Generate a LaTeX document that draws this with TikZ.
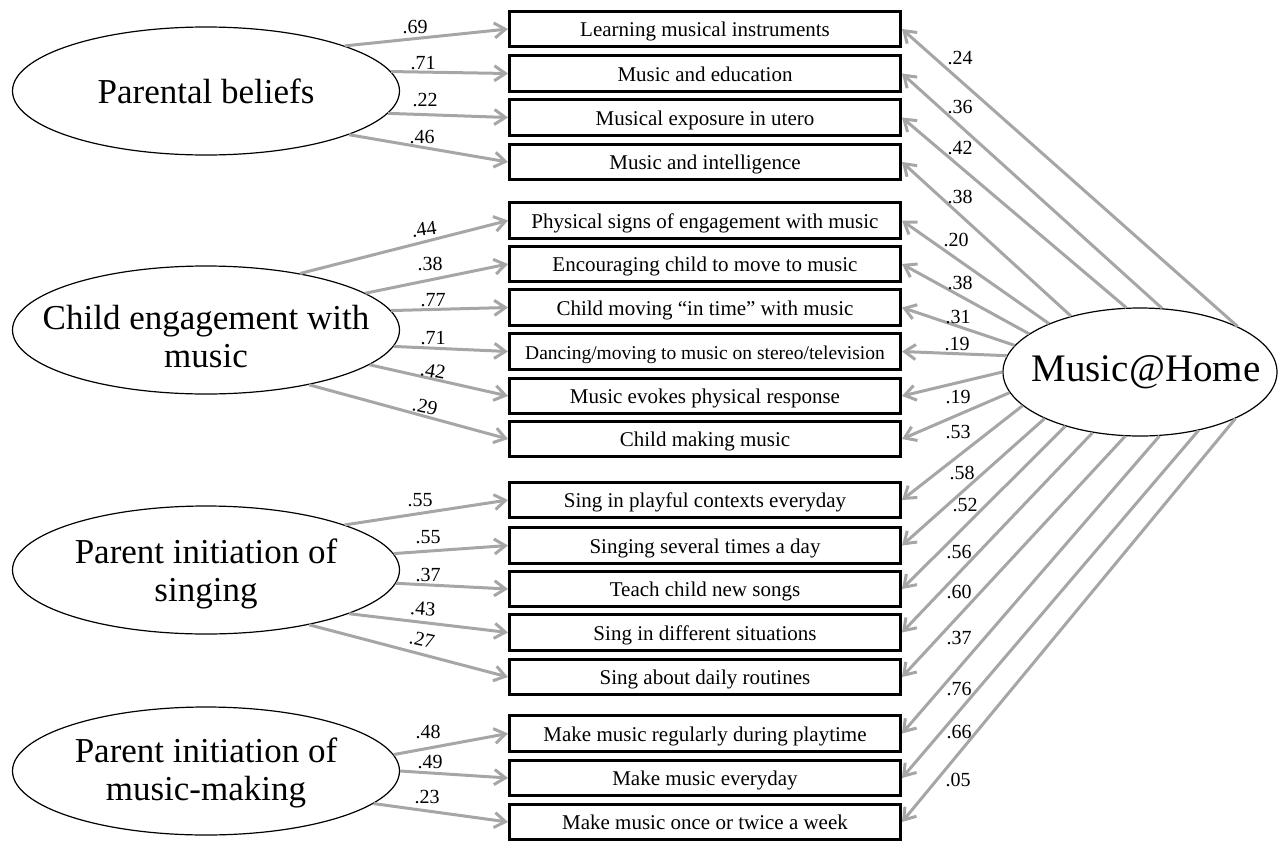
\documentclass[tikz,border=0pt]{standalone}
\usepackage{fontspec}
\setmainfont{Liberation Serif}
\usetikzlibrary{shapes.geometric,arrows.meta}
\definecolor{arrgray}{HTML}{A6A6A6}
\begin{document}
\begin{tikzpicture}[x=1pt,y=-1pt,
  itembox/.style={draw=black, line width=3pt, rectangle, minimum width=391pt,
    minimum height=35.5pt, inner sep=0pt, text height=15pt, text depth=0pt,
    font=\fontsize{21}{24}\selectfont},
  latent/.style={draw=black, line width=1.2pt, ellipse, minimum width=387pt,
    minimum height=128pt, inner sep=0pt},
  ltext/.style={font=\fontsize{35}{38}\selectfont, align=center, inner sep=0pt},
  loadarrow/.style={draw=arrgray, line width=3pt,
    -{Straight Barb[length=11pt,width=15pt]}},
  coef/.style={font=\fontsize{20}{22}\selectfont, inner sep=0pt},
]
\useasboundingbox (0,0) rectangle (1286,841);

% latent variables
\node[latent] (pb) at (206,91) {};
\node[ltext] (pbt) at (206,91) {Parental beliefs};
\node[latent] (ce) at (206,330) {};
\node[ltext] (cet) at (206,337) {Child engagement with\\music};
\node[latent] (ps) at (206,570) {};
\node[ltext] (pst) at (206,573.5) {Parent initiation of\\singing};
\node[latent] (pm) at (206,771) {};
\node[ltext] (pmt) at (206,773) {Parent initiation of\\music-making};
\node[latent, minimum width=274pt] (mh) at (1140,372) {};
\node[font=\fontsize{39}{42}\selectfont, inner sep=0pt] (mht) at (1146,372) {Music@Home};

% indicators
\node[itembox] (b1) at (705,29) {Learning musical instruments};
\node[itembox] (b2) at (705,73.5) {Music and education};
\node[itembox] (b3) at (705,117.5) {Musical exposure in utero};
\node[itembox] (b4) at (705,162) {Music and intelligence};
\node[itembox] (b5) at (705,220.5) {Physical signs of engagement with music};
\node[itembox] (b6) at (705,264) {Encouraging child to move to music};
\node[itembox] (b7) at (705,307.5) {Child moving “in time” with music};
\node[itembox, font=\fontsize{19.5}{22}\selectfont] (b8) at (705,351.5) {Dancing/moving to music on stereo/television};
\node[itembox] (b9) at (705,396) {Music evokes physical response};
\node[itembox] (b10) at (705,439) {Child making music};
\node[itembox] (b11) at (705,500) {Sing in playful contexts everyday};
\node[itembox] (b12) at (705,545.5) {Singing several times a day};
\node[itembox] (b13) at (705,589) {Teach child new songs};
\node[itembox] (b14) at (705,632.5) {Sing in different situations};
\node[itembox] (b15) at (705,677) {Sing about daily routines};
\node[itembox] (b16) at (705,733.5) {Make music regularly during playtime};
\node[itembox] (b17) at (705,778) {Make music everyday};
\node[itembox] (b18) at (705,822) {Make music once or twice a week};

% left loadings
\draw[loadarrow] (pb.18.6) -- (b1.west);
\draw[loadarrow] (pb.6.4) -- (b2.west);
\draw[loadarrow] (pb.-7.6) -- (b3.west);
\draw[loadarrow] (pb.-17.8) -- (b4.west);
\draw[loadarrow] (ce.31.2) -- (b5.west);
\draw[loadarrow] (ce.13.3) -- (b6.west);
\draw[loadarrow] (ce.6.1) -- (b7.west);
\draw[loadarrow] (ce.-5.5) -- (b8.west);
\draw[loadarrow] (ce.-12.9) -- (b9.west);
\draw[loadarrow] (ce.-28.7) -- (b10.west);
\draw[loadarrow] (ps.18.9) -- (b11.west);
\draw[loadarrow] (ps.5.1) -- (b12.west);
\draw[loadarrow] (ps.-4.5) -- (b13.west);
\draw[loadarrow] (ps.-17.7) -- (b14.west);
\draw[loadarrow] (ps.-28.3) -- (b15.west);
\draw[loadarrow] (pm.5.4) -- (b16.west);
\draw[loadarrow] (pm.0.3) -- (b17.west);
\draw[loadarrow] (pm.-11.6) -- (b18.west);

% right loadings
\draw[loadarrow] (mh.25.3) -- (b1.east);
\draw[loadarrow] (mh.71.6) -- (b2.east);
\draw[loadarrow] (mh.102.8) -- (b3.east);
\draw[loadarrow] (mh.141.6) -- (b4.east);
\draw[loadarrow] (mh.152.7) -- (b5.east);
\draw[loadarrow] (mh.161.9) -- (b6.east);
\draw[loadarrow] (mh.168.9) -- (b7.east);
\draw[loadarrow] (mh.173.6) -- (b8.east);
\draw[loadarrow] (mh.180.4) -- (b9.east);
\draw[loadarrow] (mh.189.9) -- (b10.east);
\draw[loadarrow] (mh.196.4) -- (b11.east);
\draw[loadarrow] (mh.206.3) -- (b12.east);
\draw[loadarrow] (mh.216.7) -- (b13.east);
\draw[loadarrow] (mh.232.4) -- (b14.east);
\draw[loadarrow] (mh.257.6) -- (b15.east);
\draw[loadarrow] (mh.287.4) -- (b16.east);
\draw[loadarrow] (mh.315.9) -- (b17.east);
\draw[loadarrow] (mh.334.2) -- (b18.east);

% left coefficients
\node[coef] (c1) at (415,27) {.69};
\node[coef] (c2) at (423,63) {.71};
\node[coef] (c3) at (425,100) {.22};
\node[coef] (c4) at (422,137) {.46};
\node[coef, rotate=8] (c5) at (424,229) {.44};
\node[coef] (c6) at (430,264) {.38};
\node[coef] (c7) at (433,300) {.77};
\node[coef] (c8) at (433,338) {.71};
\node[coef, rotate=-10] (c9) at (433,371) {.42};
\node[coef, rotate=-12] (c10) at (425,407) {.29};
\node[coef] (c11) at (420,500) {.55};
\node[coef] (c12) at (428,537) {.55};
\node[coef] (c13) at (428,575) {.37};
\node[coef, rotate=-5] (c14) at (423,609) {.43};
\node[coef, rotate=-12] (c15) at (422,640) {.27};
\node[coef] (c16) at (428,732) {.48};
\node[coef] (c17) at (430,762) {.49};
\node[coef] (c18) at (427,797) {.23};

% right coefficients
\node[coef] (d1) at (960,58) {.24};
\node[coef] (d2) at (960,107) {.36};
\node[coef] (d3) at (960,148) {.42};
\node[coef] (d4) at (960,197) {.38};
\node[coef] (d5) at (956,240) {.20};
\node[coef] (d6) at (960,283) {.38};
\node[coef] (d7) at (958,317) {.31};
\node[coef] (d8) at (957,344) {.19};
\node[coef] (d9) at (958,397) {.19};
\node[coef] (d10) at (958,432) {.53};
\node[coef] (d11) at (962,473) {.58};
\node[coef] (d12) at (965,505) {.52};
\node[coef] (d13) at (959,552) {.56};
\node[coef] (d14) at (959,592) {.60};
\node[coef] (d15) at (959,638) {.37};
\node[coef] (d16) at (959,689) {.76};
\node[coef] (d17) at (959,732) {.66};
\node[coef] (d18) at (958,780) {.05};
\end{tikzpicture}
\end{document}
